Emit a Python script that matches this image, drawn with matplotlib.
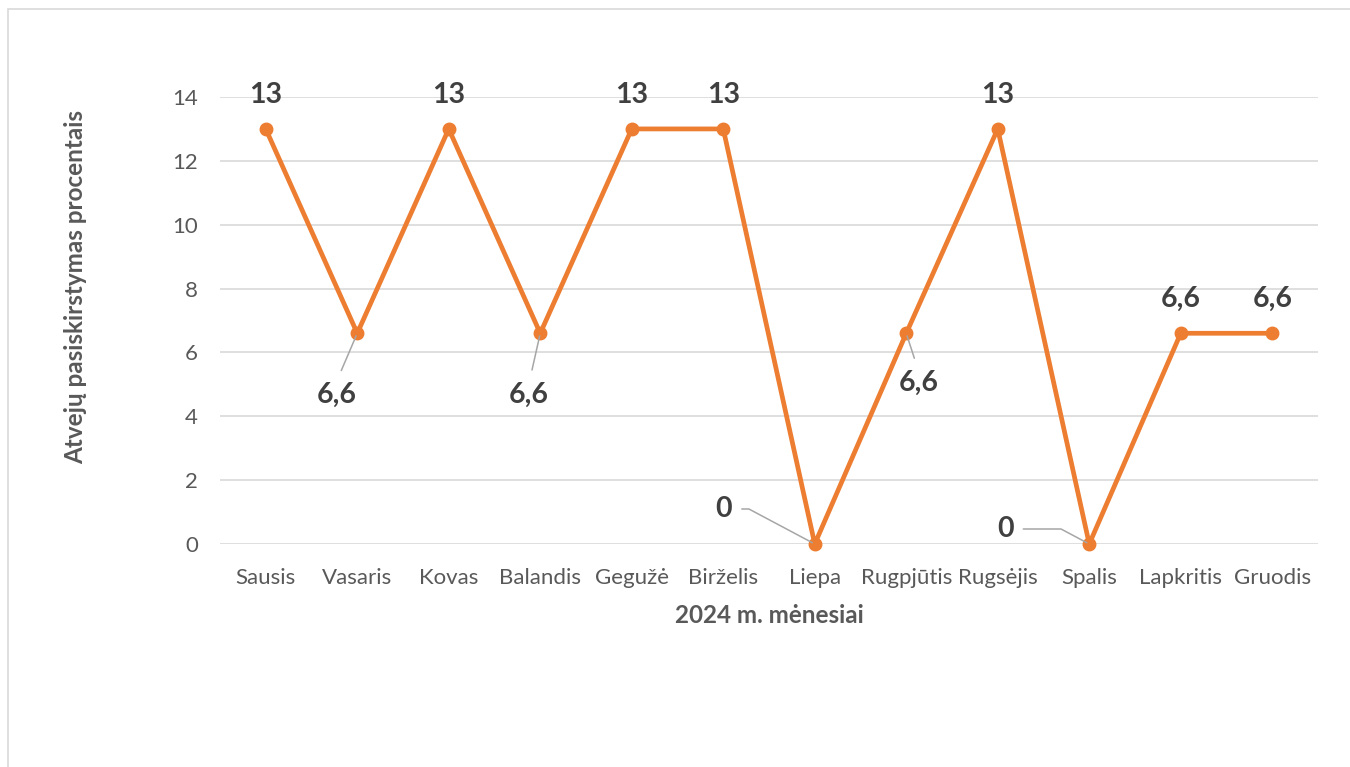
import matplotlib
matplotlib.use("Agg")
import matplotlib.pyplot as plt
from matplotlib.patches import Rectangle

# duomenys
menesiai = ['Sausis', 'Vasaris', 'Kovas', 'Balandis', 'Gegužė', 'Birželis',
            'Liepa', 'Rugpjūtis', 'Rugsėjis', 'Spalis', 'Lapkritis', 'Gruodis']
procentai = [13, 6.6, 13, 6.6, 13, 13, 0, 6.6, 13, 0, 6.6, 6.6]
etiketes = ['13', '6,6', '13', '6,6', '13', '13', '0', '6,6', '13', '0', '6,6', '6,6']
y_ticks = [0, 2, 4, 6, 8, 10, 12, 14]

plt.rcParams['font.family'] = ['Lato', 'DejaVu Sans']

fig = plt.figure(figsize=(13.5, 7.67), dpi=100)
fig.patches.append(Rectangle((8/1350, -0.1), 1.2, 1 - 9/767 + 0.1,
                             transform=fig.transFigure, fill=False,
                             edgecolor='#D9D9D9', lw=1.2))
ax = fig.add_axes([220/1350, 1 - 544/767, 1098/1350, 447/767])

x = list(range(len(menesiai)))
ax.plot(x, procentai, color='#ED7D31', lw=3.4, marker='o', ms=9,
        solid_capstyle='round', zorder=3, clip_on=False)

ax.set_xlim(-0.5, len(menesiai) - 0.5)
ax.set_ylim(0, 14)
ax.set_yticks(y_ticks)
ax.set_xticks(x)
ax.set_xticklabels(menesiai)
ax.tick_params(length=0, labelsize=16, labelcolor='#595959', pad=17)
ax.tick_params(axis='y', pad=16)
ax.grid(axis='y', color='#D9D9D9', lw=1.2)
ax.set_axisbelow(True)
for s in ax.spines.values():
    s.set_visible(False)

ax.set_xlabel('2024 m. mėnesiai', fontsize=17.5, fontweight='bold',
              color='#595959', labelpad=12)
ax.set_ylabel('Atvejų pasiskirstymas procentais', fontsize=17.5,
              fontweight='bold', color='#595959')
ax.yaxis.set_label_coords(-0.121, 0.575)

# etikečių vietos (pikseliais nuo taško)
poslinkiai = [(0, 34), (-21, -62), (0, 34), (-11, -62), (0, 34), (0, 34),
              (-91, 35), (12, -50), (0, 34), (-84, 15), (0, 34), (0, 34)]
lin = dict(arrowstyle='-', color='#A6A6A6', lw=1.1, shrinkB=2)
for i, (v, t, off) in enumerate(zip(procentai, etiketes, poslinkiai)):
    kw = {}
    if off[1] < 0:
        kw['arrowprops'] = dict(lin, relpos=(0.5, 1.0), shrinkA=7)
    elif off[0] < 0:
        kw['arrowprops'] = dict(lin, relpos=(1.0, 0.5), shrinkA=5,
                                connectionstyle='angle,angleA=0,angleB=-28,rad=0')
    ax.annotate(t, (i, v), xytext=off, textcoords='offset pixels',
                ha='center', va='center', fontsize=20.5, fontweight='bold',
                color='#404040', annotation_clip=False, **kw)

fig.savefig('out.png', dpi=100)
